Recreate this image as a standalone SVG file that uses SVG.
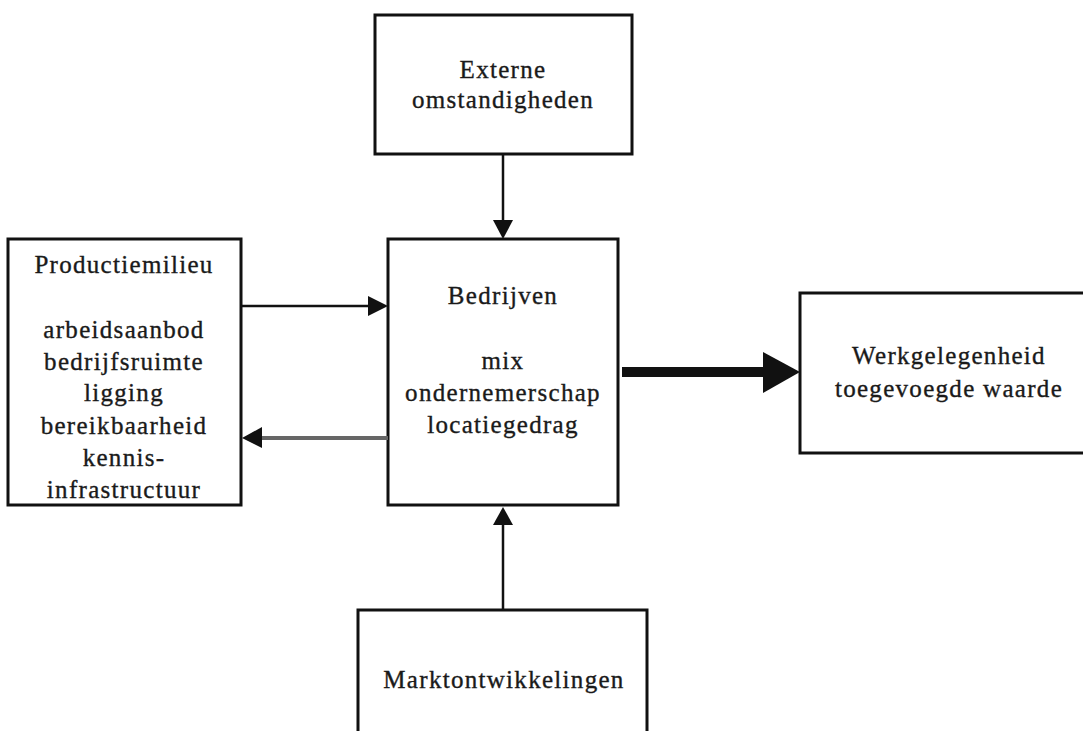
<svg xmlns="http://www.w3.org/2000/svg" width="1083" height="731" viewBox="0 0 1083 731">
<style>
.box{fill:#fff;stroke:#111;stroke-width:3}
.t text{font-size:25px;fill:#1a1a1a;stroke:#1a1a1a;stroke-width:0.35;text-anchor:middle;letter-spacing:1.3px}
.ln{stroke:#111;stroke-width:2.5;fill:none}
</style>
<rect width="1083" height="731" fill="#fff"/>
<g class="t" font-family="Liberation Serif, Times New Roman, DejaVu Serif, serif">
<g id="externe">
<rect class="box" x="375" y="15" width="257" height="139"/>
<text x="503" y="78">Externe</text>
<text x="503" y="108">omstandigheden</text>
</g>
<g id="productiemilieu">
<rect class="box" x="8" y="239" width="233" height="266"/>
<text x="124" y="273">Productiemilieu</text>
<text x="124" y="338">arbeidsaanbod</text>
<text x="124" y="370">bedrijfsruimte</text>
<text x="124" y="401">ligging</text>
<text x="124" y="434">bereikbaarheid</text>
<text x="124" y="466">kennis-</text>
<text x="124" y="498">infrastructuur</text>
</g>
<g id="bedrijven">
<rect class="box" x="388" y="239" width="230" height="266"/>
<text x="503" y="304">Bedrijven</text>
<text x="503" y="369">mix</text>
<text x="503" y="401">ondernemerschap</text>
<text x="503" y="433">locatiegedrag</text>
</g>
<g id="werkgelegenheid">
<rect class="box" x="800" y="293" width="290" height="160"/>
<text x="949" y="364">Werkgelegenheid</text>
<text x="949" y="397">toegevoegde waarde</text>
</g>
<g id="marktontwikkelingen">
<rect class="box" x="358" y="610" width="289" height="130"/>
<text x="504" y="688">Marktontwikkelingen</text>
</g>
</g>
<g id="connectors">
<line class="ln" x1="503" y1="154" x2="503" y2="222"/>
<polygon points="493,220 513,220 503,239" fill="#111"/>
<line class="ln" x1="241" y1="306" x2="370" y2="306"/>
<polygon points="368,296 388,306 368,316" fill="#111"/>
<line x1="388" y1="438" x2="258" y2="438" stroke="#666" stroke-width="4"/>
<polygon points="262,427 242,438 262,448" fill="#111"/>
<line class="ln" x1="503" y1="610" x2="503" y2="522"/>
<polygon points="493,525 513,525 503,507" fill="#111"/>
<line x1="622" y1="372" x2="765" y2="372" stroke="#111" stroke-width="10"/>
<polygon points="763,352 800,372 763,393" fill="#111"/>
</g>
</svg>
